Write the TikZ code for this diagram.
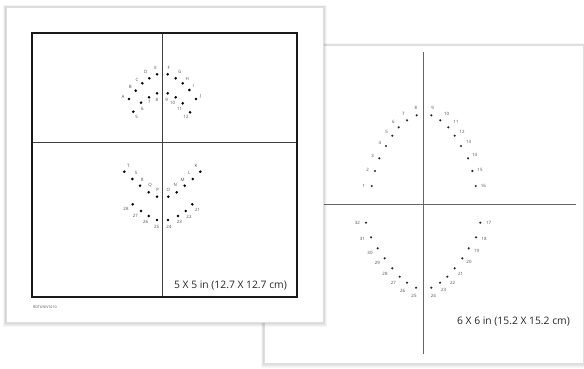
\documentclass[tikz,border=0pt]{standalone}
\usepackage{fontspec}
\setmainfont{Open Sans}
\begin{document}
\begin{tikzpicture}[x=1pt,y=-1pt,
  dot/.style={circle,fill=black,inner sep=0pt,minimum size=2.9pt},
  rdot/.style={circle,fill=black!85,inner sep=0pt,minimum size=2.4pt},
  lab/.style={inner sep=0pt,font=\fontsize{4.4}{5}\selectfont,text=black!70},
  sheet/.style={fill=white,draw=black!13,line width=0.6pt},
  cross/.style={draw=black!60,line width=1.1pt},
  lcross/.style={draw=black!75,line width=0.9pt},
  dim/.style={inner sep=0pt,font=\fontsize{10.3}{12}\selectfont,text=black!85}]
\useasboundingbox (0,0) rectangle (584,369);
\fill[white] (0,0) rectangle (584,369);
% ---------- right sheet ----------
\foreach \i in {1,...,5}{
  \fill[black,opacity=0.03] (264-\i*0.6,45-\i*0.3) rectangle (583+\i*0.6,363+\i*0.9);
}
\draw[sheet] (264,45) rectangle (583,363);
\coordinate (rv1) at (423.3,52);
\coordinate (rv2) at (423.3,354);
\coordinate (rh1) at (300,204.3);
\coordinate (rh2) at (576,204.3);
\draw[cross] (rv1) -- (rv2);
\draw[cross] (rh1) -- (rh2);
\foreach \n/\x/\y/\lx/\ly in {
 1/371.7/186/364/186, 2/375/171/367.7/170, 3/379.3/158.3/372.7/156,
 4/386/146/380/142.7, 5/392.3/135.7/386.7/131.7, 6/398.7/127.3/393.3/121.7,
 7/407/120.3/403.3/114.3, 8/416.7/115.3/416/108, 9/431.3/115.3/432.7/108,
 10/440.3/120.3/446.7/114, 11/448.3/127.3/456/122.3, 12/454.7/135.7/462/131.7,
 13/461/146/468.7/142.3, 14/468/158.3/474.7/155.3, 15/472.3/171/480/170,
 16/475.7/186/483.3/186,
 17/480.3/222.7/488.7/222.7, 18/476/237.3/484/239.3, 19/468.7/248.3/476.7/251,
 20/462.3/258.3/469/262.3, 21/454.7/268.3/460.7/274, 22/447.3/276.7/452.7/282.7,
 23/440/282.7/443.7/290, 24/431.3/287.7/433.3/296, 25/416/287.7/414/296,
 26/407/282.7/402.7/290.7, 27/399.7/276.7/393.3/282.7, 28/392.3/268.3/385/274,
 29/384.7/258.3/377.3/263.3, 30/377.7/248.3/370/252.7, 31/371/237.3/362.3/239.3,
 32/366/222.7/357.3/222.7}{
  \node[rdot] (rd\n) at (\x,\y) {};
  \node[lab] (rl\n) at (\lx,\ly) {\n};
}
\node[dim,anchor=east] (rdim) at (570,322) {6 X 6 in (15.2 X 15.2 cm)};
% ---------- left sheet ----------
\foreach \i in {1,...,5}{
  \fill[black,opacity=0.035] (6-\i*0.6,7-\i*0.3) rectangle (323+\i*0.8,322+\i*1);
}
\draw[sheet] (6,7) rectangle (323,322);
\coordinate (lv1) at (162.3,33);
\coordinate (lv2) at (162.3,297);
\coordinate (lh1) at (32.3,142.7);
\coordinate (lh2) at (296.7,142.7);
\draw[lcross] (lv1) -- (lv2);
\draw[lcross] (lh1) -- (lh2);
\draw[black!90,line width=2pt] (32.3,33) rectangle (296.7,297);
\foreach \n/\x/\y/\lx/\ly in {
 A/129/99/123/97, B/135.7/90.7/130.3/87, C/142.3/83.3/137/79.5, D/149.3/78.3/145.7/71.7,
 E/157/74.3/155.7/67.7, F/167.7/74.3/168.7/67.7, G/175.7/78.3/179.7/71.7,
 H/182.7/83.3/187.3/79, I/189.3/90/193.3/86, J/196/99/200.7/96.7,
 T/124.3/171.7/128.3/165.7, S/132.3/179/136/173.3, R/140/185.7/142.3/180,
 Q/148.7/192.3/150/185, P/157/196.7/157.7/190, O/168.3/196.7/168.3/190,
 N/176.7/192.3/175.3/185, M/184.7/185.7/182.7/180, L/192.7/179/189.3/173.3,
 K/200.3/171.7/196/166}{
  \node[dot] (ld\n) at (\x,\y) {};
  \node[lab] (ll\n) at (\lx,\ly) {\n};
}
\foreach \n/\x/\y/\lx/\ly in {
 5/133.3/111.7/136.7/117.3, 6/141/102.7/142.3/109.3, 7/149/97.3/149.3/102,
 8/157/93.3/157/100, 9/167.7/93.3/166.7/100, 10/175.7/97.3/172.7/103.3,
 11/182.7/103.3/179.7/109.3, 12/190/112.3/186/117.3,
 28/132.7/204.3/126/209.3, 27/141/211/135.3/215.7, 26/148.7/216/145.7/222.3,
 25/157/220/156.7/226.7, 24/168/220/169/226.7, 23/178/216/179.3/221.7,
 22/185.7/211/189/216.7, 21/192.3/204.3/197.7/210}{
  \node[dot] (ln\n) at (\x,\y) {};
  \node[lab] (lm\n) at (\lx,\ly) {\n};
}
\node[dim,anchor=east] (ldim) at (287,285.7) {5 X 5 in (12.7 X 12.7 cm)};
\node[inner sep=0pt,anchor=west,font=\fontsize{3.6}{4}\selectfont,text=black!70] (code) at (33,307.7) {RDTUNIV1010};
\end{tikzpicture}
\end{document}
